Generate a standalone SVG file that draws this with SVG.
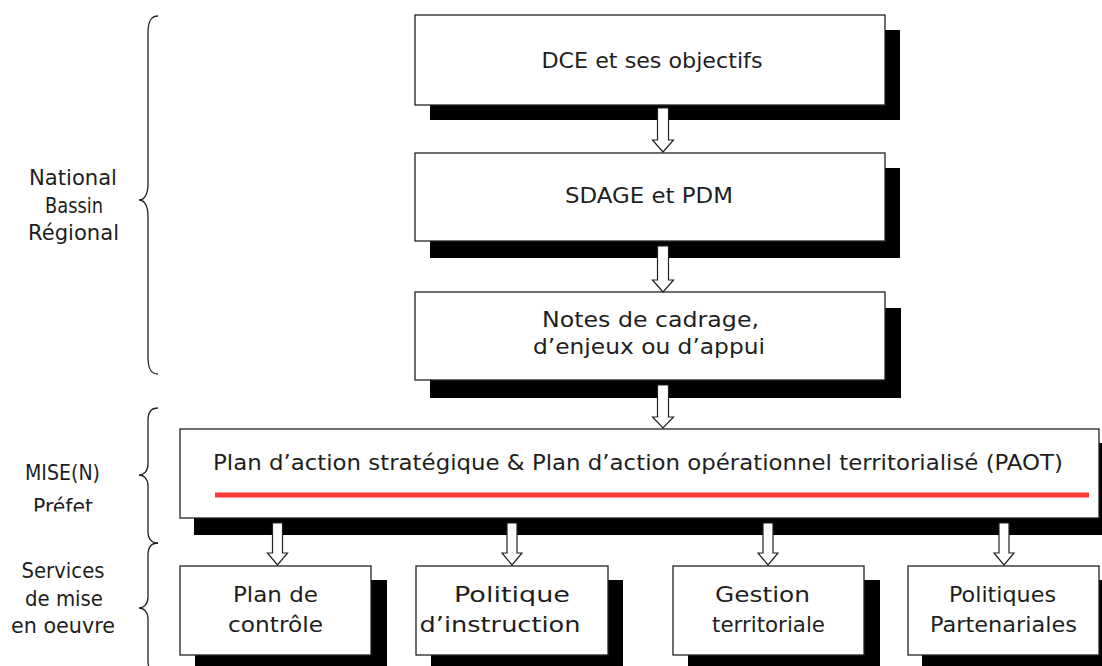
<svg xmlns="http://www.w3.org/2000/svg" width="1102" height="666" viewBox="0 0 1102 666">
<style>
.box{fill:#fff;stroke:#222;stroke-width:1.3}
.shadow{fill:#000}
.arrow{fill:#fff;stroke:#222;stroke-width:1.2;stroke-linejoin:miter}
.brace{fill:none;stroke:#222;stroke-width:1.3}
text{font-family:"DejaVu Sans","Liberation Sans",sans-serif;font-size:22px;fill:#1e1e1e;text-anchor:middle}
</style>
<defs>
<clipPath id="clipPrefet"><rect x="0" y="400" width="170" height="111.5"/></clipPath>
</defs>
<rect width="1102" height="666" fill="#fff"/>

<g id="labels">
<g id="label-national">
<path class="brace" d="M158,16 C151,16 148,21 148,33 L148,184 C148,195 144,200 139,200 C144,200 148,205 148,216 L148,357 C148,369 151,374 158,374"/>
<text x="73" y="185" textLength="88" lengthAdjust="spacingAndGlyphs">National</text>
<text x="74" y="213" textLength="58" lengthAdjust="spacingAndGlyphs">Bassin</text>
<text x="73.5" y="240" textLength="91" lengthAdjust="spacingAndGlyphs">Régional</text>
</g>
<g id="label-mise">
<path class="brace" d="M158,408 C151,408 148,412 148,420 L148,464 C148,471 144,475 139,475 C144,475 148,479 148,486 L148,531 C148,539 151,543 158,543"/>
<g clip-path="url(#clipPrefet)">
<text x="62.5" y="480" textLength="75" lengthAdjust="spacingAndGlyphs">MISE(N)</text>
<text x="63" y="514" textLength="60" lengthAdjust="spacingAndGlyphs">Préfet</text>
</g>
</g>
<g id="label-services">
<path class="brace" d="M158,543 C151,543 148,547 148,555 L148,597 C148,604 144,608 139,608 C144,608 148,612 148,619 L148,661 C148,669 151,673 158,673"/>
<text x="63" y="578" textLength="83" lengthAdjust="spacingAndGlyphs">Services</text>
<text x="64" y="606" textLength="78" lengthAdjust="spacingAndGlyphs">de mise</text>
<text x="63" y="633" textLength="104" lengthAdjust="spacingAndGlyphs">en oeuvre</text>
</g>
</g>

<g id="node-dce">
<rect class="shadow" x="430" y="30" width="470" height="90"/>
<rect class="box" x="415" y="15" width="470" height="90"/>
<text x="652" y="68" textLength="221" lengthAdjust="spacingAndGlyphs">DCE et ses objectifs</text>
</g>

<g id="node-sdage">
<rect class="shadow" x="430" y="168" width="470" height="90"/>
<rect class="box" x="415" y="153" width="470" height="88"/>
<text x="649" y="203" textLength="168" lengthAdjust="spacingAndGlyphs">SDAGE et PDM</text>
</g>

<g id="node-notes">
<rect class="shadow" x="430" y="308" width="471" height="90"/>
<rect class="box" x="415" y="292" width="470" height="88"/>
<text x="650.5" y="327" textLength="217" lengthAdjust="spacingAndGlyphs">Notes de cadrage,</text>
<text x="649" y="354" textLength="232" lengthAdjust="spacingAndGlyphs">d’enjeux ou d’appui</text>
</g>

<g id="node-plan">
<rect class="shadow" x="194" y="443" width="920" height="92"/>
<rect class="box" x="180" y="429" width="919" height="89"/>
<text x="638" y="470" textLength="850" lengthAdjust="spacingAndGlyphs">Plan d’action stratégique &amp; Plan d’action opérationnel territorialisé (PAOT)</text>
<line x1="215" y1="495" x2="1089" y2="495" stroke="#ff3838" stroke-width="5"/>
</g>

<g id="node-controle">
<rect class="shadow" x="195" y="580" width="192" height="90"/>
<rect class="box" x="180" y="566" width="191" height="89"/>
<text x="275.5" y="602" textLength="85" lengthAdjust="spacingAndGlyphs">Plan de</text>
<text x="275.5" y="632" textLength="95" lengthAdjust="spacingAndGlyphs">contrôle</text>
</g>

<g id="node-instruction">
<rect class="shadow" x="431" y="580" width="192" height="90"/>
<rect class="box" x="416" y="566" width="192" height="89"/>
<text x="512" y="602" textLength="116" lengthAdjust="spacingAndGlyphs">Politique</text>
<text x="500" y="632" textLength="161" lengthAdjust="spacingAndGlyphs">d’instruction</text>
</g>

<g id="node-gestion">
<rect class="shadow" x="688" y="580" width="192" height="90"/>
<rect class="box" x="673" y="566" width="191" height="89"/>
<text x="762.5" y="602" textLength="95" lengthAdjust="spacingAndGlyphs">Gestion</text>
<text x="768.5" y="632" textLength="113" lengthAdjust="spacingAndGlyphs">territoriale</text>
</g>

<g id="node-partenariales">
<rect class="shadow" x="922" y="580" width="192" height="90"/>
<rect class="box" x="908" y="566" width="191" height="89"/>
<text x="1002.5" y="602" textLength="107" lengthAdjust="spacingAndGlyphs">Politiques</text>
<text x="1003.5" y="632" textLength="147" lengthAdjust="spacingAndGlyphs">Partenariales</text>
</g>

<g id="connectors">
<path class="arrow" d="M657.5,108 L668.5,108 L668.5,140 L673.5,140 L663,152 L652.5,140 L657.5,140 Z"/>
<path class="arrow" d="M657.5,246 L668.5,246 L668.5,280 L673.5,280 L663,292 L652.5,280 L657.5,280 Z"/>
<path class="arrow" d="M657.5,385 L668.5,385 L668.5,417 L673.5,417 L663,428 L652.5,417 L657.5,417 Z"/>
<path class="arrow" d="M272.5,523 L282.5,523 L282.5,553 L287.5,553 L277.5,565 L267.5,553 L272.5,553 Z"/>
<path class="arrow" d="M507,523 L517,523 L517,553 L522,553 L512,565 L502,553 L507,553 Z"/>
<path class="arrow" d="M763,523 L773,523 L773,553 L778,553 L768,565 L758,553 L763,553 Z"/>
<path class="arrow" d="M999,523 L1009,523 L1009,553 L1014,553 L1004,565 L994,553 L999,553 Z"/>
</g>
</svg>
